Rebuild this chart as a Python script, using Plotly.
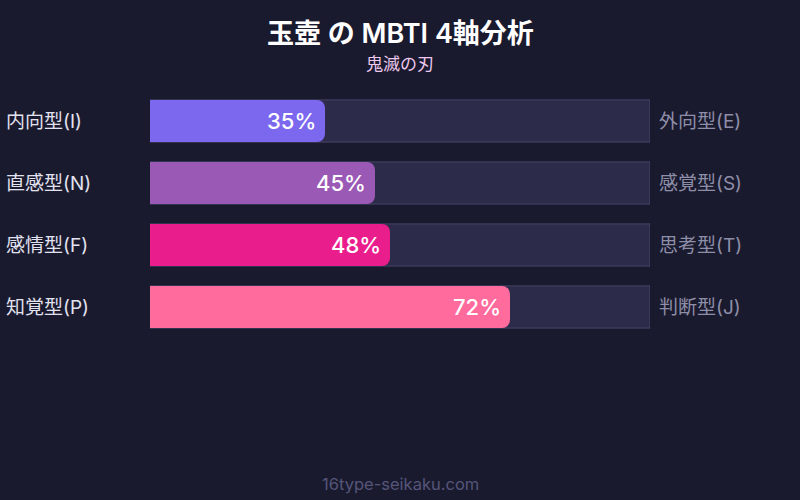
import plotly.graph_objects as go

# data
axes_left = ["内向型(I)", "直感型(N)", "感情型(F)", "知覚型(P)"]
axes_right = ["外向型(E)", "感覚型(S)", "思考型(T)", "判断型(J)"]
scores = [35, 45, 48, 72]
bar_colors = ["#7b68ee", "#9b59b6", "#e91e8c", "#ff6b9d"]

BG = "#1a1a2e"
FONT = "Inter, Noto Sans CJK JP, sans-serif"

fig = go.Figure()

# background tracks (100%)
fig.add_trace(go.Bar(
    x=[100] * len(axes_left),
    y=axes_left,
    orientation="h",
    width=0.68,
    marker=dict(color="#2d2b4a", line=dict(color="#46466a", width=1)),
    hoverinfo="skip",
    showlegend=False,
))

# score bars, on an overlaying axis so they sit on top with rounded ends
fig.add_trace(go.Bar(
    x=scores,
    y=axes_left,
    orientation="h",
    width=0.68,
    yaxis="y2",
    marker=dict(color=bar_colors, line=dict(width=0), cornerradius=8),
    showlegend=False,
))

annotations = []
for lbl, rlbl, val in zip(axes_left, axes_right, scores):
    # percent label at bar end
    annotations.append(dict(
        x=val, y=lbl, xref="x", yref="y",
        text=f"{val}%", showarrow=False,
        xanchor="right", xshift=-7,
        font=dict(family=FONT, size=22, color="#ffffff", weight=500),
    ))
    annotations.append(dict(
        x=-0.292, y=lbl, xref="paper", yref="y",
        text=lbl, showarrow=False, xanchor="left",
        font=dict(family=FONT, size=19, color="#e2e2f0"),
    ))
    annotations.append(dict(
        x=1.014, y=lbl, xref="paper", yref="y",
        text=rlbl, showarrow=False, xanchor="left",
        font=dict(family=FONT, size=19, color="#8e8ea8"),
    ))

annotations += [
    dict(x=0.5, y=33, xref="paper", yref="paper", text="玉壺 の MBTI 4軸分析",
         showarrow=False, font=dict(family=FONT, size=27, color="#ffffff", weight=600)),
    dict(x=0.5, y=64, xref="paper", yref="paper", text="鬼滅の刃",
         showarrow=False, font=dict(family=FONT, size=17, color="#ecc8ec")),
    dict(x=0.5, y=484, xref="paper", yref="paper", text="16type-seikaku.com",
         showarrow=False, font=dict(family=FONT, size=16.5, color="#55557a")),
]

# convert pixel y for header/footer into paper coords
plot_top, plot_bottom = 90, 338
for a in annotations[-3:]:
    a["y"] = (plot_bottom - a["y"]) / (plot_bottom - plot_top)
    a["yanchor"] = "middle"

fig.update_layout(
    width=800, height=500,
    paper_bgcolor=BG, plot_bgcolor=BG,
    margin=dict(l=150, r=150, t=plot_top, b=500 - plot_bottom),
    xaxis=dict(range=[0, 100], visible=False, fixedrange=True),
    yaxis=dict(autorange="reversed", visible=False, fixedrange=True),
    yaxis2=dict(autorange="reversed", visible=False, fixedrange=True,
                overlaying="y", matches="y"),
    annotations=annotations,
    font=dict(family=FONT),
)

fig.write_html(
    "out.html",
    config={"displayModeBar": False},
    post_script="document.body.style.margin='0';",
)
